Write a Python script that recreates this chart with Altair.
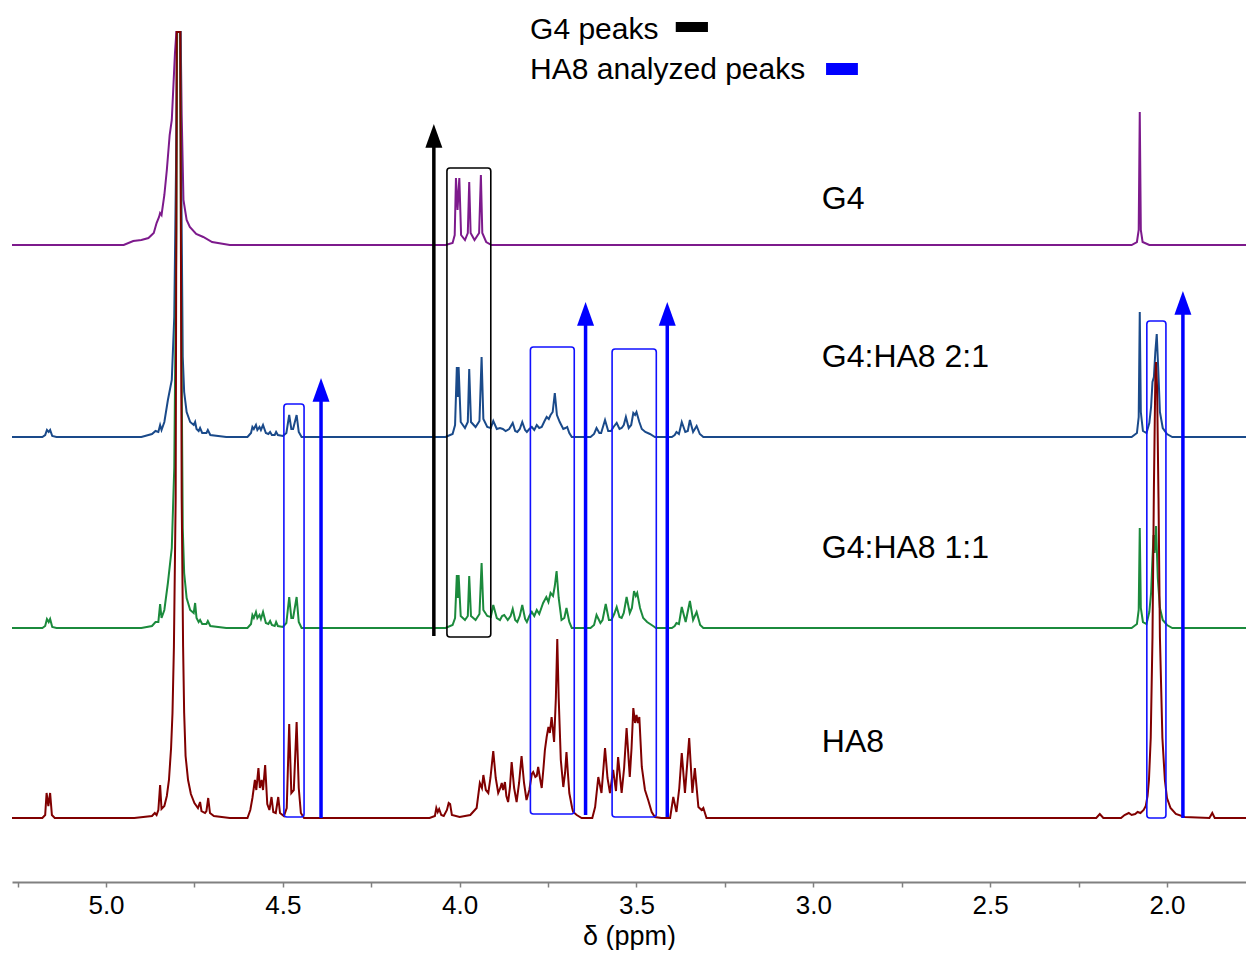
import altair as alt
import pandas as pd

# ---------------- data (ppm, intensity above own baseline) ----------------
TRACE_NAMES = ["G4", "G4:HA8 2:1", "G4:HA8 1:1", "HA8"]
TRACE_COLORS = ["#7D1A8C", "#1A4A8A", "#1B8A3C", "#800000"]
TRACE_OFFSETS = [637, 445, 254, 64]

G4 = [(5.266,0),(4.95,0),(4.923,4),(4.90,5),(4.88,7),(4.865,12),(4.857,22),(4.850,28),(4.847,32),(4.843,30),
      (4.835,50),(4.828,75),(4.820,110),(4.814,125),(4.805,192),(4.801,213),(4.789,213),(4.786,130),
      (4.781,45),(4.772,25),(4.763,18),(4.745,11),(4.725,8),(4.70,3),(4.65,0),
      (4.04,0),(4.02,2),(4.014,10),(4.0105,67),(4.006,35),(4.001,67),(3.996,10),(3.985,5),(3.977,12),
      (3.973,63),(3.969,12),(3.958,5),(3.945,12),(3.940,70),(3.936,12),(3.925,3),(3.91,0),
      (2.10,0),(2.085,3),(2.080,15),(2.077,133),(2.074,15),(2.069,3),(2.05,0),(1.76,0)]

T21 = [(5.266,0),(5.18,0),(5.172,2),(5.167,7),(5.162,5),(5.158,7),(5.152,1),(5.14,0),
       (4.90,0),(4.87,3),(4.86,6),(4.852,5),(4.847,12),(4.843,7),(4.835,15),(4.825,37),(4.814,57),
       (4.807,120),(4.801,300),(4.799,405),(4.790,405),(4.787,250),(4.783,80),(4.779,45),(4.772,25),
       (4.762,15),(4.752,12),(4.748,15),(4.744,8),(4.738,6),(4.734,9),(4.728,4),(4.716,4),(4.712,7),
       (4.705,2),(4.66,0),
       (4.60,0),(4.59,4),(4.586,10),(4.582,8),(4.576,12),(4.572,7),(4.566,10),(4.562,7),(4.556,12),
       (4.548,4),(4.541,3),(4.536,5),(4.531,2),(4.523,2),(4.519,5),(4.514,2),(4.50,1),(4.490,4),
       (4.482,22),(4.476,8),(4.471,8),(4.461,22),(4.455,5),(4.447,0),
       (4.04,0),(4.02,3),(4.013,12),(4.008,70),(4.005,40),(4.003,70),(3.997,15),(3.985,9),(3.977,15),
       (3.973,68),(3.968,15),(3.955,10),(3.944,16),(3.938,80),(3.933,18),(3.922,10),(3.912,9),
       (3.905,16),(3.895,8),(3.886,9),(3.878,8),(3.870,6),(3.860,8),(3.850,14),(3.843,6),(3.837,5),
       (3.830,8),(3.823,15),(3.815,7),(3.810,5),(3.803,8),(3.796,10),(3.789,7),(3.782,12),(3.775,9),
       (3.768,10),(3.760,16),(3.754,20),(3.748,18),(3.743,22),(3.737,25),(3.731,44),(3.725,22),
       (3.717,15),(3.707,8),(3.701,9),(3.696,10),(3.690,4),(3.683,0),
       (3.63,0),(3.62,3),(3.613,9),(3.605,4),(3.600,4),(3.589,17),(3.580,6),(3.572,6),(3.565,10),
       (3.556,14),(3.548,8),(3.542,9),(3.536,12),(3.530,20),(3.522,9),(3.515,12),(3.509,24),
       (3.504,22),(3.500,25),(3.492,15),(3.485,8),(3.475,5),(3.462,3),(3.448,0),
       (3.40,0),(3.392,2),(3.387,5),(3.380,3),(3.372,15),(3.362,5),(3.355,6),(3.349,17),(3.340,5),
       (3.330,11),(3.321,3),(3.311,0),
       (2.10,0),(2.085,4),(2.080,20),(2.077,125),(2.074,25),(2.068,6),(2.058,4),(2.050,14),
       (2.045,30),(2.041,55),(2.037,60),(2.033,85),(2.029,103),(2.025,70),(2.020,25),(2.012,9),
       (2.0,3),(1.985,0),(1.76,0)]

T11 = [(5.266,0),(5.18,0),(5.172,2),(5.167,9),(5.162,6),(5.158,9),(5.152,1),(5.14,0),
       (4.90,0),(4.87,2),(4.86,6),(4.852,6),(4.847,24),(4.843,10),(4.835,18),(4.825,45),(4.814,80),
       (4.807,160),(4.801,400),(4.799,596),(4.790,596),(4.787,300),(4.783,100),(4.779,55),(4.772,30),
       (4.762,18),(4.752,15),(4.748,25),(4.744,10),(4.738,6),(4.734,8),(4.728,4),(4.716,4),(4.712,7),
       (4.705,2),(4.66,0),
       (4.60,0),(4.59,4),(4.586,13),(4.582,10),(4.576,16),(4.572,10),(4.566,13),(4.562,9),(4.556,16),
       (4.548,5),(4.541,4),(4.536,7),(4.531,3),(4.523,2),(4.519,6),(4.514,2),(4.50,1),(4.490,5),
       (4.482,31),(4.476,10),(4.471,10),(4.461,31),(4.455,6),(4.447,0),
       (4.04,0),(4.02,3),(4.013,10),(4.008,53),(4.005,30),(4.003,53),(3.997,12),(3.985,8),(3.977,12),
       (3.973,52),(3.968,12),(3.955,8),(3.944,14),(3.938,65),(3.933,18),(3.922,12),(3.912,11),
       (3.905,23),(3.895,10),(3.886,8),(3.880,12),(3.874,13),(3.864,8),(3.856,12),(3.850,19),
       (3.843,8),(3.837,6),(3.830,12),(3.823,23),(3.815,9),(3.810,6),(3.803,12),(3.796,16),
       (3.789,12),(3.782,18),(3.775,14),(3.764,25),(3.755,31),(3.749,26),(3.743,35),(3.736,32),
       (3.731,42),(3.726,57),(3.720,30),(3.712,8),(3.704,10),(3.698,20),(3.690,6),(3.683,0),
       (3.63,0),(3.62,3),(3.613,13),(3.602,5),(3.596,8),(3.587,24),(3.578,8),(3.571,8),(3.563,14),
       (3.556,21),(3.548,11),(3.542,10),(3.536,15),(3.528,31),(3.519,15),(3.513,20),(3.507,37),
       (3.502,32),(3.498,35),(3.490,20),(3.481,10),(3.470,6),(3.453,2),(3.445,0),
       (3.40,0),(3.392,2),(3.387,5),(3.380,4),(3.372,21),(3.361,6),(3.349,27),(3.340,8),(3.330,16),
       (3.320,3),(3.311,0),
       (2.10,0),(2.085,4),(2.080,18),(2.077,100),(2.074,20),(2.068,6),(2.058,4),(2.050,16),
       (2.045,35),(2.041,70),(2.038,93),(2.035,75),(2.031,102),(2.026,50),(2.020,20),(2.012,8),
       (2.0,3),(1.985,0),(1.76,0)]

HA8 = [(5.266,0),(5.18,0),(5.172,3),(5.168,25),(5.163,12),(5.158,25),(5.153,3),(5.145,0),
       (4.92,0),(4.87,2),(4.862,5),(4.857,3),(4.852,8),(4.847,33),(4.843,9),(4.835,12),(4.828,22),
       (4.822,38),(4.816,70),(4.812,105),(4.808,171),(4.803,320),(4.800,786),(4.790,786),(4.786,320),
       (4.782,171),(4.779,105),(4.775,62),(4.768,38),(4.760,24),(4.750,15),(4.740,10),(4.734,16),
       (4.730,7),(4.720,5),(4.716,7),(4.711,20),(4.706,5),(4.695,2),(4.65,0),
       (4.60,0),(4.592,8),(4.586,20),(4.579,38),(4.575,28),(4.569,50),(4.565,30),(4.560,38),
       (4.556,28),(4.550,53),(4.544,14),(4.538,8),(4.532,21),(4.527,6),(4.520,5),(4.513,21),
       (4.508,5),(4.497,2),(4.489,10),(4.482,94),(4.476,25),(4.469,28),(4.461,96),(4.455,30),
       (4.449,5),(4.44,0),
       (4.085,0),(4.07,2),(4.066,10),(4.062,6),(4.058,9),(4.052,3),(4.045,2),(4.036,8),(4.031,15),
       (4.027,14),(4.022,3),(4.0,1),(3.97,3),
       (3.952,10),(3.943,35),(3.937,30),(3.933,43),(3.926,28),(3.919,25),(3.913,40),(3.905,67),
       (3.898,40),(3.891,25),(3.885,30),(3.881,35),(3.877,28),(3.872,36),(3.868,22),(3.863,16),
       (3.858,30),(3.853,56),(3.846,30),(3.839,16),(3.832,35),(3.825,62),(3.818,35),(3.811,18),
       (3.803,28),(3.796,44),(3.792,46),(3.786,41),(3.782,42),(3.778,51),(3.772,38),(3.768,30),
       (3.763,50),(3.759,68),(3.754,81),(3.749,91),(3.745,85),(3.740,101),(3.733,76),(3.728,120),
       (3.724,179),(3.720,120),(3.714,58),(3.707,31),(3.702,45),(3.698,66),(3.694,45),(3.690,25),
       (3.682,10),(3.679,6),(3.669,3),(3.655,0),
       (3.625,0),(3.617,11),(3.608,41),(3.599,25),(3.589,70),(3.582,40),(3.575,25),(3.566,48),
       (3.558,27),(3.552,61),(3.542,25),(3.535,50),(3.528,90),(3.519,41),(3.514,70),(3.509,110),
       (3.504,95),(3.500,103),(3.496,95),(3.492,101),(3.485,51),(3.476,28),(3.467,18),(3.457,6),
       (3.448,1),(3.43,0),
       (3.405,0),(3.396,21),(3.387,6),(3.379,30),(3.372,65),(3.363,25),(3.351,80),(3.342,25),
       (3.335,50),(3.325,11),(3.316,8),(3.311,10),(3.302,0),
       (2.20,0),(2.19,4),(2.18,0),(2.13,0),(2.12,3),(2.108,5),(2.10,3),(2.09,4),(2.083,6),(2.075,5),
       (2.066,8),(2.06,12),(2.055,22),(2.051,38),(2.046,80),(2.041,181),(2.037,330),(2.033,440),
       (2.031,456),(2.028,430),(2.024,320),(2.020,181),(2.013,80),(2.006,38),(2.0,20),(1.99,10),
       (1.975,4),(1.95,1),(1.88,0),(1.872,5),(1.865,0),(1.76,0)]

TRACES = [G4, T21, T11, HA8]

# trace labels (ppm of left edge, height)
LABEL_PPM = [2.976, 2.976, 2.976, 2.976]
LABEL_Y = [683, 525, 334, 140]

# analysis boxes: (ppm_left, ppm_right, y_bottom, y_top, colour)
BOXES = [(4.036, 3.912, 245, 714, "#000000"),
         (4.497, 4.440, 65, 478, "#1010FF"),
         (3.800, 3.676, 68, 535, "#1010FF"),
         (3.569, 3.444, 65, 533, "#1010FF"),
         (2.057, 2.003, 64, 561, "#1010FF")]

# arrows: (ppm, y_bottom, y_tip, colour)
ARROWS = [(4.073, 246, 758, "#000000"),
          (4.392, 64, 504, "#0000FF"),
          (3.644, 67, 580, "#0000FF"),
          (3.413, 65, 580, "#0000FF"),
          (1.955, 64, 591, "#0000FF")]

# legend
LEGEND_TEXT = ["G4 peaks", "HA8 analyzed peaks"]
LEGEND_TEXT_PPM = [3.801, 3.801]
LEGEND_TEXT_Y = [852, 812]
LEGEND_SWATCH = [(3.389, 3.298, 850, 860, "#000000"), (2.964, 2.874, 807, 819, "#0000FF")]

X_DOMAIN = [1.7766, 5.2658]
Y_DOMAIN = [0, 872]
TICKS = [5.25, 5.0, 4.75, 4.5, 4.25, 4.0, 3.75, 3.5, 3.25, 3.0, 2.75, 2.5, 2.25, 2.0]

FONT = "Liberation Sans"

# ---------------- chart ----------------
xscale = alt.Scale(domain=X_DOMAIN, reverse=True, nice=False, zero=False)
yscale = alt.Scale(domain=Y_DOMAIN, nice=False, zero=False)
xaxis = alt.Axis(values=TICKS, grid=False,
                 labelExpr="abs(datum.value*2 - round(datum.value*2)) < 0.01 ? format(datum.value, '.1f') : ''",
                 domainColor="#808080", domainWidth=2, tickColor="#808080", tickWidth=1.5,
                 tickSize=5, labelFont=FONT, labelFontSize=26, labelColor="black",
                 labelPadding=5, title="δ (ppm)", titleFont=FONT, titleFontSize=27,
                 titleFontWeight="normal", titleColor="black", titlePadding=5, labelFlush=False)


def X(field):
    return alt.X(field, type="quantitative", scale=xscale, axis=xaxis)


def Y(field):
    return alt.Y(field, type="quantitative", scale=yscale, axis=None)


layers = []
for name, col, off, tr in zip(TRACE_NAMES, TRACE_COLORS, TRACE_OFFSETS, TRACES):
    df = pd.DataFrame({"ppm": [p for p, _ in tr],
                       "y": [off + h for _, h in tr],
                       "idx": list(range(len(tr)))})
    layers.append(alt.Chart(df).mark_line(color=col, strokeWidth=2, clip=True).encode(
        x=X("ppm"), y=Y("y"), order="idx:Q"))

box_df = pd.DataFrame(BOXES, columns=["x1", "x2", "y1", "y2", "c"])
layers.append(alt.Chart(box_df).mark_rect(fillOpacity=0, strokeWidth=1.6, cornerRadius=3).encode(
    x=X("x1"), x2="x2", y=Y("y1"), y2="y2", stroke=alt.Color("c:N", scale=None)))

arr_df = pd.DataFrame(ARROWS, columns=["x", "y1", "tip", "c"])
arr_df["y2"] = arr_df["tip"] - 12
layers.append(alt.Chart(arr_df).mark_rule(strokeWidth=3.5).encode(
    x=X("x"), y=Y("y1"), y2="y2", color=alt.Color("c:N", scale=None)))
layers.append(alt.Chart(arr_df).mark_point(shape="M0,0L1,2.8L-1,2.8Z", filled=True, size=289,
                                           opacity=1, strokeWidth=0).encode(
    x=X("x"), y=Y("tip"), color=alt.Color("c:N", scale=None)))

lab_df = pd.DataFrame({"x": LABEL_PPM, "y": LABEL_Y, "t": TRACE_NAMES})
layers.append(alt.Chart(lab_df).mark_text(align="left", baseline="middle", font=FONT, fontSize=32,
                                          color="black").encode(x=X("x"), y=Y("y"), text="t:N"))

leg_df = pd.DataFrame({"x": LEGEND_TEXT_PPM, "y": LEGEND_TEXT_Y, "t": LEGEND_TEXT})
layers.append(alt.Chart(leg_df).mark_text(align="left", baseline="middle", font=FONT, fontSize=30,
                                          color="black").encode(x=X("x"), y=Y("y"), text="t:N"))
sw_df = pd.DataFrame(LEGEND_SWATCH, columns=["x1", "x2", "y1", "y2", "c"])
layers.append(alt.Chart(sw_df).mark_rect().encode(
    x=X("x1"), x2="x2", y=Y("y1"), y2="y2", color=alt.Color("c:N", scale=None)))

chart = alt.layer(*layers).properties(
    width=1234, height=872,
    padding={"left": 4, "top": 2, "right": 0, "bottom": 68},
    autosize=alt.AutoSizeParams(type="none"),
    background="white",
).configure_view(stroke=None)

chart.save("out.html", embed_options={"renderer": "svg", "actions": False})
